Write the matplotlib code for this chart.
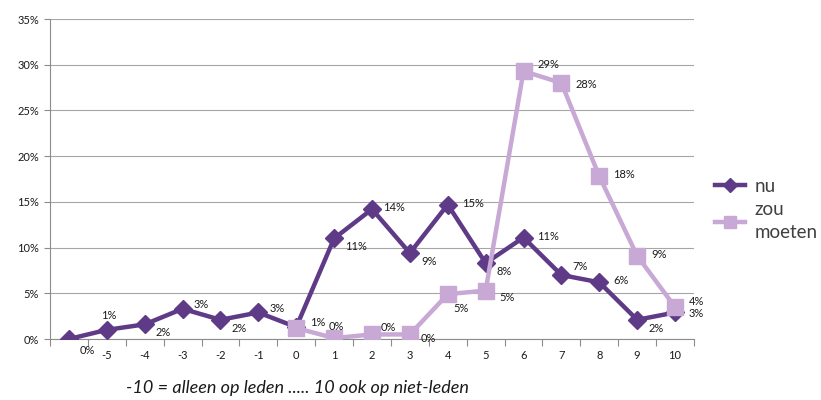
import numpy as np
import matplotlib
matplotlib.use("Agg")
import matplotlib.pyplot as plt

plt.rcParams['font.family'] = ['Lato', 'DejaVu Sans']

# categories (first one has no label on the axis)
categories = ["", "-5", "-4", "-3", "-2", "-1", "0", "1", "2", "3", "4", "5", "6", "7", "8", "9", "10"]

# share per score, in percent
nu = [0.0, 1.0, 1.6, 3.3, 2.1, 2.9, 1.3, 11.0, 14.2, 9.4, 14.7, 8.3, 11.1, 7.0, 6.2, 2.1, 2.9]
zou_moeten = [np.nan, np.nan, np.nan, np.nan, np.nan, np.nan,
              1.2, 0.1, 0.5, 0.5, 4.9, 5.3, 29.3, 28.0, 17.8, 9.1, 3.5]

nu_labels = ["0%", "1%", "2%", "3%", "2%", "3%", "1%", "11%", "14%", "9%", "15%", "8%", "11%", "7%", "6%", "2%", "3%"]
zou_labels = ["", "", "", "", "", "", "", "0%", "0%", "0%", "5%", "5%", "29%", "28%", "18%", "9%", "4%"]

# label offsets in points (dx, dy)
nu_off = [(8, -8), (-4, 10), (8, -6), (8, 3), (8, -6), (8, 3), (10, 3), (8, -6), (8, 1),
          (8, -6), (10, 1), (8, -6), (10, 1), (8, 6), (10, 1), (8, -6), (10, -1)]
zou_off = [(0, 0)] * 7 + [(-4, 8), (6, 5), (8, -3), (4, -10), (10, -5), (10, 5),
                          (10, -1), (10, 1), (10, 1), (10, 4)]

dark = "#5E3A87"
light = "#C8A8D4"

fig = plt.figure(figsize=(8.21, 4.0), dpi=100)
ax = fig.add_axes([0.0609, 0.1525, 0.7844, 0.80])

x = np.arange(len(categories))
ax.plot(x, nu, color=dark, lw=3.2, marker="D", markersize=9.5, label="nu", zorder=3)
ax.plot(x, zou_moeten, color=light, lw=3.2, marker="s", markersize=11,
        label="zou\nmoeten", zorder=4)

for i in range(len(categories)):
    ax.annotate(nu_labels[i], (x[i], nu[i]), xytext=nu_off[i], textcoords="offset points",
                fontsize=8, ha="left", va="center", color="#1a1a1a", zorder=5)
    if zou_labels[i]:
        ax.annotate(zou_labels[i], (x[i], zou_moeten[i]), xytext=zou_off[i],
                    textcoords="offset points", fontsize=8, ha="left", va="center",
                    color="#1a1a1a", zorder=5)

ax.set_xlim(-0.5, len(categories) - 0.5)
ax.set_ylim(0, 35)
yt = np.arange(0, 36, 5)
ax.set_yticks(yt)
ax.set_yticklabels([f"{v}%" for v in yt], fontsize=8, color="#1a1a1a")
ax.set_xticks(x)
ax.set_xticklabels(categories, fontsize=8, color="#1a1a1a")
ax.set_xticks(np.arange(-0.5, len(categories), 1), minor=True)
ax.tick_params(axis="x", which="major", length=0, pad=8)
ax.tick_params(axis="x", which="minor", length=5, color="#8c8c8c", width=0.8)
ax.tick_params(axis="y", length=4, color="#8c8c8c", width=0.8, pad=4)

ax.grid(axis="y", color="#a6a6a6", lw=0.8)
ax.set_axisbelow(True)
for s in ["top", "right"]:
    ax.spines[s].set_visible(False)
for s in ["left", "bottom"]:
    ax.spines[s].set_color("#8c8c8c")
    ax.spines[s].set_linewidth(0.8)

leg = fig.legend(loc="upper left", bbox_to_anchor=(0.862, 0.575), frameon=False,
                 fontsize=13.5, handlelength=1.6, handletextpad=0.5, labelspacing=0.35,
                 markerscale=0.75, labelcolor="#404040", borderaxespad=0)
for t in leg.get_texts():
    t.set_linespacing(1.45)

fig.text(0.362, 0.03, "-10 = alleen op leden ..... 10 ook op niet-leden",
         fontsize=13, style="italic", ha="center", va="center", color="#1a1a1a")

fig.savefig("out.png", dpi=100)
